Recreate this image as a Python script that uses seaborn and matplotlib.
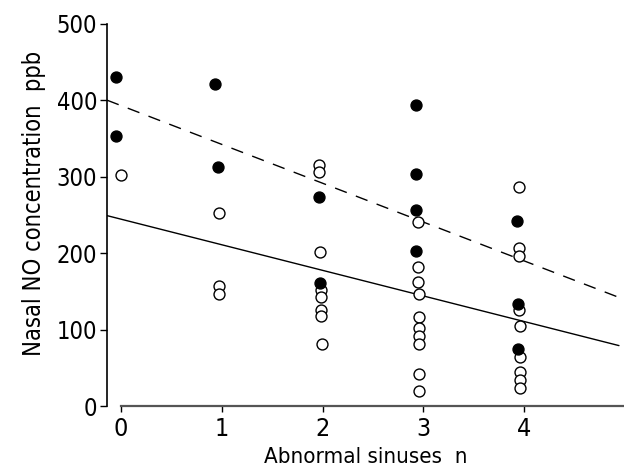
import numpy as np
import pandas as pd
import matplotlib
matplotlib.use("Agg")
import matplotlib.pyplot as plt
import seaborn as sns

# filled circles
filled_x = [-0.05, -0.05, 0.93, 0.96, 1.96, 1.97, 2.93, 2.93, 2.93, 2.93, 3.93, 3.94, 3.94]
filled_y = [430, 353, 421, 312, 273, 161, 394, 304, 256, 203, 242, 133, 75]

# open circles
open_x = [0.0, 0.97, 0.97, 0.97,
          1.96, 1.96, 1.97, 1.98, 1.98, 1.98, 1.98, 1.99,
          2.95, 2.95, 2.95, 2.96, 2.96, 2.96, 2.96, 2.96, 2.96, 2.96,
          3.95, 3.95, 3.95, 3.95, 3.96, 3.96, 3.96, 3.96, 3.96]
open_y = [302, 253, 157, 147,
          315, 306, 202, 152, 142, 125, 118, 81,
          241, 182, 162, 146, 117, 102, 92, 81, 42, 19,
          286, 206, 196, 125, 105, 64, 44, 34, 24]

# regression lines (endpoints)
line_x = [-0.14, 4.94]
dashed_y = [400, 142]
solid_y = [249, 79]

sns.set_style("ticks")
plt.rcParams['font.family'] = ['DejaVu Sans']
plt.rcParams['font.stretch'] = 'condensed'
plt.rcParams['text.color'] = 'black'
plt.rcParams['axes.labelcolor'] = 'black'

fig = plt.figure(figsize=(6.24, 4.73), dpi=100)
ax = fig.add_axes([107 / 624, 67 / 473, 517 / 624, 406 / 473])

df_f = pd.DataFrame({"x": filled_x, "y": filled_y})
df_o = pd.DataFrame({"x": open_x, "y": open_y})
df_d = pd.DataFrame({"x": line_x, "y": dashed_y})
df_s = pd.DataFrame({"x": line_x, "y": solid_y})

sns.lineplot(data=df_d, x="x", y="y", ax=ax, color="black", lw=1.0,
             linestyle=(0, (9, 7)))
sns.lineplot(data=df_s, x="x", y="y", ax=ax, color="black", lw=1.0)
sns.scatterplot(data=df_o, x="x", y="y", ax=ax, s=62, facecolor="white",
                edgecolor="black", linewidth=1.0, zorder=3, clip_on=False)
sns.scatterplot(data=df_f, x="x", y="y", ax=ax, s=62, color="black",
                edgecolor="black", linewidth=1.0, zorder=4, clip_on=False)

ax.set_xlim(-0.14, 4.99)
ax.set_ylim(0, 531)
ax.set_xticks([0, 1, 2, 3, 4])
ax.set_yticks([0, 100, 200, 300, 400, 500])
ax.spines["top"].set_visible(False)
ax.spines["right"].set_visible(False)
ax.spines["left"].set_bounds(0, 500)
ax.spines["bottom"].set_bounds(0, 4.99)
ax.spines["left"].set_color("black")
ax.spines["bottom"].set_color("#555555")
ax.spines["left"].set_linewidth(1.2)
ax.spines["bottom"].set_linewidth(1.6)
ax.tick_params(axis="y", length=5, width=1, colors="black", labelsize=17, pad=2)
ax.tick_params(axis="x", length=4, width=1, colors="black", labelsize=18, pad=4)
ax.set_xlabel("Abnormal sinuses  n", fontsize=16, labelpad=4)
ax.set_ylabel("Nasal NO concentration  ppb", fontsize=17, labelpad=8)

fig.savefig("out.png", dpi=100)
